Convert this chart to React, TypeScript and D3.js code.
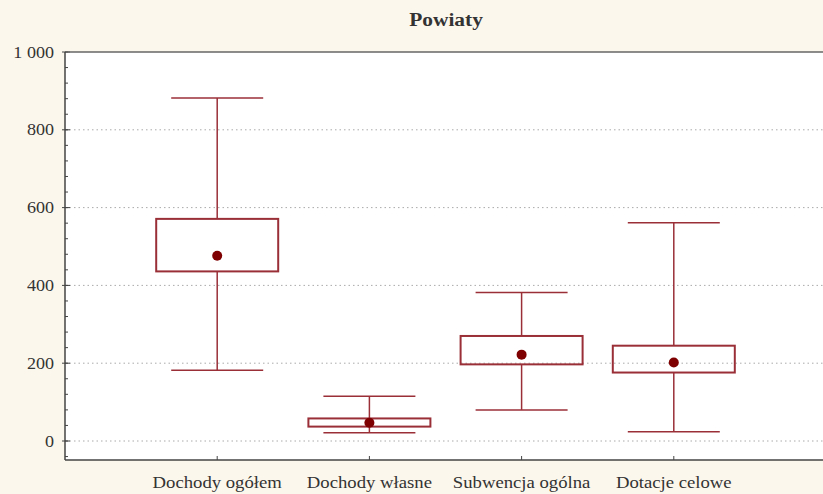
import React from "react";
import * as d3 from "d3";

const categories = ["Dochody ogółem", "Dochody własne", "Subwencja ogólna", "Dotacje celowe"];
const whiskerLow = [182, 21, 80, 24];
const boxLow = [436, 37, 197, 176];
const meanValue = [476, 47, 222, 202];
const boxHigh = [571, 58, 270, 245];
const whiskerHigh = [882, 115, 382, 561];
const majorTicks = [0, 200, 400, 600, 800, 1000];
const minorTicks = d3.range(-40, 1001, 40);

const W = 823;
const H = 494;
const left = 65;
const top = 52;
const bottom = 460;
const right = 826;

export default function App() {
  const y = d3.scaleLinear().domain([0, 1000]).range([441, top]);
  const x = d3.scalePoint<string>().domain(categories).range([left, right]).padding(1);
  const fmt = d3.formatLocale({ decimal: ",", thousands: " ", grouping: [3], currency: ["", ""] }).format(",d");
  const boxW = 122;
  const capW = 92;
  const stroke = "#9a2f37";
  const serif = "'Liberation Serif', 'DejaVu Serif', serif";

  return (
    <svg width={W} height={H} style={{ position: "absolute", left: 0, top: 0 }} fontFamily={serif}>
      <rect x={0} y={0} width={W} height={H} fill="#fcf7ec" />
      <rect x={left} y={top} width={right - left} height={bottom - top} fill="#ffffff" />
      <text transform={`translate(${(left + W) / 2 + 2},26) scale(1.19,1)`} textAnchor="middle" fontWeight="bold" fontSize={18} fill="#333">
        Powiaty
      </text>
      {majorTicks.filter((t) => t > 0 && t < 1000).concat([0]).map((t) => (
        <line key={"g" + t} x1={left} x2={right} y1={y(t)} y2={y(t)} stroke="#aaa" strokeWidth={1} strokeDasharray="1.5,3" />
      ))}
      {minorTicks.map((t) => (
        <line key={"m" + t} x1={left} x2={left + 3} y1={y(t)} y2={y(t)} stroke="#444" strokeWidth={1} />
      ))}
      {majorTicks.map((t) => (
        <g key={"t" + t}>
          <line x1={left - 3} x2={left + 5} y1={y(t)} y2={y(t)} stroke="#444" strokeWidth={1} />
          <text transform={`translate(${left - 11},${y(t)}) scale(1.13,1)`} dy="0.35em" textAnchor="end" fontSize={16} fill="#333">
            {fmt(t)}
          </text>
        </g>
      ))}
      {categories.map((c) => (
        <g key={"c" + c}>
          <line x1={x(c)!} x2={x(c)!} y1={bottom} y2={bottom - 4} stroke="#444" strokeWidth={1} />
          <text transform={`translate(${x(c)!},488) scale(1.1,1)`} textAnchor="middle" fontSize={17} fill="#333">
            {c}
          </text>
        </g>
      ))}
      {categories.map((c, i) => {
        const cx = x(c)!;
        return (
          <g key={"b" + c}>
            <line x1={cx} x2={cx} y1={y(whiskerHigh[i])} y2={y(boxHigh[i])} stroke={stroke} strokeWidth={1.5} />
            <line x1={cx} x2={cx} y1={y(boxLow[i])} y2={y(whiskerLow[i])} stroke={stroke} strokeWidth={1.5} />
            <line x1={cx - capW / 2} x2={cx + capW / 2} y1={y(whiskerHigh[i])} y2={y(whiskerHigh[i])} stroke={stroke} strokeWidth={1.5} />
            <line x1={cx - capW / 2} x2={cx + capW / 2} y1={y(whiskerLow[i])} y2={y(whiskerLow[i])} stroke={stroke} strokeWidth={1.5} />
            <rect x={cx - boxW / 2} y={y(boxHigh[i])} width={boxW} height={y(boxLow[i]) - y(boxHigh[i])} fill="none" stroke={stroke} strokeWidth={2} />
            <circle cx={cx} cy={y(meanValue[i])} r={5} fill="#7f0000" />
          </g>
        );
      })}
      <line x1={left} x2={right} y1={top} y2={top} stroke="#666" strokeWidth={1.7} />
      <line x1={left} x2={right} y1={bottom} y2={bottom} stroke="#444" strokeWidth={1.5} />
      <line x1={left} x2={left} y1={top} y2={bottom} stroke="#444" strokeWidth={1.5} />
    </svg>
  );
}
